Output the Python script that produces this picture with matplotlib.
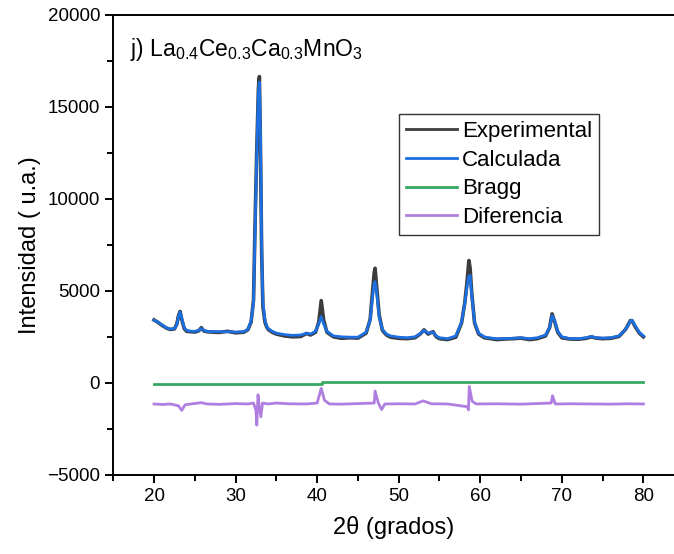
import matplotlib.pyplot as plt
from matplotlib.ticker import MultipleLocator

plt.rcParams['font.family'] = ['Liberation Sans', 'DejaVu Sans']
plt.rcParams['mathtext.fontset'] = 'custom'
plt.rcParams['mathtext.rm'] = 'Liberation Sans'
plt.rcParams['mathtext.it'] = 'Liberation Sans:italic'

# 2theta grid (grados) shared by experimental and calculated patterns
two_theta = [20, 20.5, 21, 21.5, 22, 22.5, 22.8, 23.0, 23.2, 23.4, 23.7, 24.0, 24.5, 25.0,
             25.5, 25.8, 26.1, 26.5, 27, 28, 29, 30, 31, 31.5, 31.9, 32.2, 32.4, 32.6,
             32.8, 32.92, 33.05, 33.2, 33.35, 33.6, 33.8, 34.0, 34.5, 35, 36, 37, 38,
             38.7, 39.2, 39.8, 40.2, 40.5, 40.8, 41.2, 42, 43, 44, 45, 46, 46.5, 46.8,
             47.0, 47.1, 47.3, 47.6, 48.0, 48.5, 49, 50, 51, 52, 52.7, 53.1, 53.6,
             54.2, 54.6, 55, 56, 57, 57.7, 58.1, 58.4, 58.6, 58.75, 58.95, 59.3, 59.8,
             60.5, 61, 62, 63, 64, 65, 66, 67, 68, 68.5, 68.8, 69.1, 69.5, 70, 71, 72,
             73, 73.6, 74.2, 75, 76, 77, 77.8, 78.4, 78.6, 79, 79.5, 80]

calculada = [3400, 3300, 3150, 3000, 2920, 2950, 3150, 3600, 3850, 3500, 3000, 2850, 2800, 2800,
             2850, 2950, 2850, 2800, 2780, 2780, 2780, 2760, 2780, 2900, 3350, 4400, 8500, 12500,
             15800, 16350, 13300, 7400, 4400, 3400, 3100, 2950, 2800, 2700, 2620, 2580, 2600,
             2700, 2650, 2800, 3200, 3600, 3200, 2800, 2550, 2500, 2480, 2480, 2750, 3400, 4700,
             5400, 5500, 4900, 3600, 2900, 2650, 2550, 2480, 2450, 2500, 2700, 2850, 2700,
             2750, 2550, 2450, 2400, 2550, 3300, 4300, 5300, 5800, 5850, 4800, 3300, 2700,
             2500, 2450, 2400, 2400, 2420, 2450, 2400, 2450, 2600, 3000, 3650, 3400, 2800, 2500, 2400, 2400,
             2450, 2520, 2450, 2430, 2450, 2550, 2900, 3350, 3400, 3100, 2750, 2550]

experimental = [3420, 3280, 3120, 2980, 2900, 2930, 3200, 3650, 3880, 3450, 2950, 2800, 2780, 2760,
                2830, 3000, 2820, 2780, 2760, 2740, 2800, 2720, 2750, 2880, 3300, 4500, 8900, 12700,
                16000, 16650, 12800, 7000, 4150, 3300, 3050, 2900, 2750, 2650, 2550, 2500, 2520,
                2680, 2600, 2750, 3300, 4470, 3400, 2750, 2500, 2420, 2450, 2430, 2700, 3450, 5000,
                6000, 6230, 5200, 3700, 2850, 2600, 2480, 2420, 2400, 2450, 2680, 2880, 2650,
                2780, 2500, 2400, 2350, 2480, 3250, 4350, 5600, 6650, 6250, 4900, 3250, 2650,
                2450, 2420, 2350, 2380, 2400, 2430, 2350, 2400, 2550, 3000, 3750, 3350, 2750, 2450, 2380, 2370,
                2420, 2500, 2430, 2400, 2420, 2520, 2900, 3380, 3380, 3050, 2700, 2500]

bragg_x = [20, 40.6, 40.6, 80]
bragg_y = [-40, -40, 40, 40]

dif_x = [20, 21, 22, 23.0, 23.4, 23.8, 24.5, 25.8, 26.5, 28, 30, 31.5, 32.2, 32.5, 32.6,
         32.75, 32.9, 33.1, 33.3, 34, 35, 36.5, 38.7, 40.0, 40.5, 40.9, 41.5, 43, 45,
         47.0, 47.1, 47.5, 47.9, 48.3, 50, 52, 53, 54, 56, 58.4, 58.55, 58.65, 59.0,
         59.5, 62, 65, 68.7, 68.85, 69.2, 71, 74, 76, 78, 80]
diferencia = [-1150, -1180, -1150, -1250, -1500, -1200, -1150, -1080, -1150, -1170, -1130, -1150,
              -1100, -1500, -2300, -650, -1300, -1850, -1100, -1150, -1100, -1140, -1150, -1100,
              -300, -950, -1150, -1160, -1130, -1100, -450, -1100, -1450, -1150, -1140, -1150,
              -980, -1140, -1150, -1300, -1470, -200, -1000, -1150, -1140, -1160, -1100, -700,
              -1150, -1140, -1150, -1160, -1140, -1150]

fig = plt.figure(figsize=(6.74, 5.54), dpi=100)
ax = fig.add_axes([0.168, 0.143, 0.832, 0.830])

ax.plot(two_theta, experimental, color='#3c3c3c', lw=2.6, label='Experimental')
ax.plot(two_theta, calculada, color='#1c6fe0', lw=2.0, label='Calculada')
ax.plot(bragg_x, bragg_y, color='#37a862', lw=2.0, label='Bragg')
ax.plot(dif_x, diferencia, color='#b07ee0', lw=2.0, label='Diferencia')

ax.set_xlim(15, 83.75)
ax.set_ylim(-5000, 20000)
ax.xaxis.set_major_locator(MultipleLocator(10))
ax.xaxis.set_minor_locator(MultipleLocator(5))
ax.yaxis.set_major_locator(MultipleLocator(5000))
ax.yaxis.set_minor_locator(MultipleLocator(2500))
ax.set_xticks([20, 30, 40, 50, 60, 70, 80])

ax.spines['right'].set_visible(False)
for s in ['left', 'bottom', 'top']:
    ax.spines[s].set_linewidth(1.4)
ax.tick_params(which='both', direction='out', width=1.4, labelsize=13.5, top=False, right=False)
ax.tick_params(which='major', length=6)
ax.tick_params(which='minor', length=4)

ax.set_xlabel('2θ (grados)', fontsize=17, labelpad=8)
ax.set_ylabel('Intensidad ( u.a.)', fontsize=17, labelpad=4)

ax.text(0.03, 0.955, r'j) La$_{0.4}$Ce$_{0.3}$Ca$_{0.3}$MnO$_3$', transform=ax.transAxes,
        fontsize=16.5, va='top', ha='left')

leg = ax.legend(loc='upper left', bbox_to_anchor=(0.51, 0.785), borderaxespad=0,
                fontsize=16, frameon=True, fancybox=False, handlelength=2.3,
                handletextpad=0.2, labelspacing=0.35, borderpad=0.32)
leg.get_frame().set_edgecolor('black')
leg.get_frame().set_linewidth(1.0)
for line in leg.get_lines():
    line.set_linewidth(2.0)

fig.savefig('out.png', dpi=100)
